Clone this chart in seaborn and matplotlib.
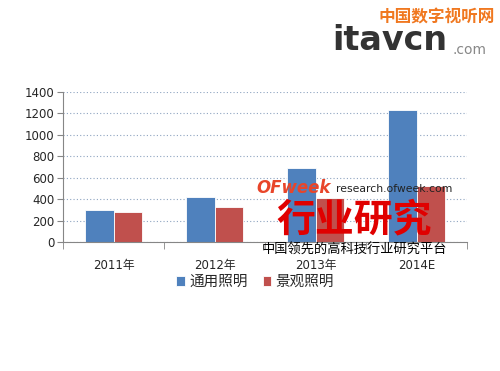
import matplotlib
matplotlib.use('Agg')
import matplotlib.pyplot as plt
import seaborn as sns
import pandas as pd
from matplotlib.ticker import FixedLocator

years = ['2011年', '2012年', '2013年', '2014E']
general = [298, 420, 688, 1230]   # 通用照明
landscape = [280, 327, 410, 523]  # 景观照明
series = ['通用照明', '景观照明']
colors = ['#4F81BD', '#C0504D']

df = pd.DataFrame({
    'year': years * 2,
    'value': general + landscape,
    'kind': [series[0]] * 4 + [series[1]] * 4,
})

sns.set_style('white')
plt.rcParams['font.family'] = ['DejaVu Sans', 'Noto Sans CJK SC']

fig = plt.figure(figsize=(5, 3.71), dpi=100)
ax = fig.add_axes([63 / 500, 1 - 242 / 371, 404 / 500, 150 / 371])

sns.barplot(data=df, x='year', y='value', hue='kind', palette=colors,
            width=0.56, saturation=1, edgecolor='white', linewidth=0.6, ax=ax)

ax.set_ylim(0, 1400)
ax.set_xlim(-0.5, 3.5)
ax.set_yticks(range(0, 1401, 200))
ax.yaxis.grid(True, linestyle=(0, (1, 2)), color='#8EA4C0', linewidth=0.8)
ax.set_axisbelow(True)
ax.set_xlabel('')
ax.set_ylabel('')
for s in ['top', 'right']:
    ax.spines[s].set_visible(False)
for s in ['left', 'bottom']:
    ax.spines[s].set_color('#868686')
ax.tick_params(axis='y', left=True, length=4, color='#868686', labelsize=8.5, pad=2)
ax.tick_params(axis='x', which='major', length=0, labelsize=8.5, pad=12)
ax.xaxis.set_minor_locator(FixedLocator([-0.5, 0.5, 1.5, 2.5, 3.5]))
ax.tick_params(axis='x', which='minor', bottom=True, length=5, color='#868686')

ax.legend(loc='center', bbox_to_anchor=(0.476, -0.267), ncol=2, frameon=False,
          handlelength=0.6, handleheight=0.6, handletextpad=0.3, columnspacing=1.0,
          prop={'family': 'Noto Sans CJK SC', 'size': 10.5})

# watermarks
fig.text(0.756, 0.952, '中国数字视听网', color='#F07820', fontsize=12, fontweight='bold',
         fontstyle='italic', family='Noto Sans CJK SC', va='center')
fig.text(0.664, 0.89, 'itavcn', color='#333333', fontsize=24, fontweight='bold', va='center')
fig.text(0.905, 0.865, '.com', color='#888888', fontsize=10, va='center')
fig.text(0.512, 0.493, 'OFweek', color='#E8452A', fontsize=12, fontweight='bold',
         fontstyle='italic', va='center')
fig.text(0.672, 0.49, 'research.ofweek.com', color='#222222', fontsize=7.8, va='center')
fig.text(0.553, 0.407, '行业研究', color='#E00000', fontsize=28, fontweight='bold',
         family='Noto Sans CJK SC', va='center')
fig.text(0.524, 0.326, '中国领先的高科技行业研究平台', color='#000000', fontsize=9.5,
         family='Noto Sans CJK SC', va='center')

fig.savefig('out.png', dpi=100, facecolor='white')
